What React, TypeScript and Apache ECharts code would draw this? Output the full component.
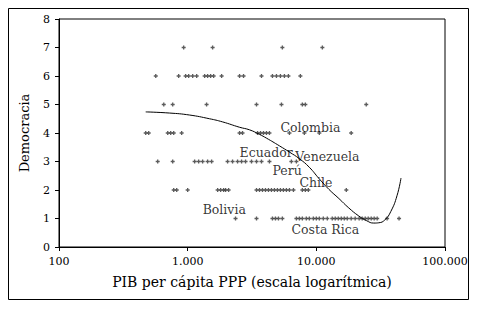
import React, { useEffect, useRef } from "react";
import * as echarts from "echarts";

// PIB per cápita (PPP) of observations, grouped by democracy score
const gdpScore7 = [931, 1563, 5445, 11140];
const gdpScore6 = [565, 851, 964, 1018, 1094, 1175, 1355, 1429, 1508, 1592, 1836, 2531, 2718, 3748, 4560, 4898, 5259, 5649, 6067, 7516];
const gdpScore5 = [652, 765, 1403, 3428, 5358, 7786, 8216, 24430];
const gdpScore4 = [472, 498, 700, 738, 779, 898, 2531, 2669, 3492, 3683, 3884, 4096, 4321, 6180, 8070, 10550, 18660];
const gdpScore3 = [585, 765, 1133, 1217, 1307, 1429, 1535, 2043, 2233, 2443, 2624, 2818, 3135, 3428, 3748, 4321, 6400, 7000];
const gdpScore2 = [779, 822, 1000, 1710, 1804, 1903, 1972, 2081, 3428, 3617, 3815, 4025, 4246, 4479, 4725, 4985, 5259, 5548, 5853, 6180, 6640, 7786, 8216, 8670, 17100];
const gdpScore1 = [2355, 3428, 4560, 4812, 5076, 5445, 6998, 7384, 7786, 8356, 8825, 9480, 10000, 10550, 11330, 12170, 13300, 14030, 14810, 15630, 16490, 17390, 18660, 20040, 21520, 22730, 23990, 25310, 26700, 28160, 29710, 35480, 43950];
const scores = [7, 6, 5, 4, 3, 2, 1];
const groups = [gdpScore7, gdpScore6, gdpScore5, gdpScore4, gdpScore3, gdpScore2, gdpScore1];

// Trend curve
const trendX = [472, 725, 1036, 1478, 1866, 2538, 3030, 3620, 4096, 5164, 6180, 7376, 8810, 10500, 12540, 14980, 17880, 21350, 24660, 27940, 30570, 34060, 37960, 42370, 45500];
const trendY = [4.74, 4.7, 4.63, 4.5, 4.39, 4.2, 4.11, 3.95, 3.82, 3.55, 3.33, 3.1, 2.8, 2.4, 2.02, 1.7, 1.37, 1.09, 0.92, 0.84, 0.85, 0.95, 1.25, 1.8, 2.42];

// Country labels (anchor at left edge of text)
const countryNames = ["Colombia", "Ecuador", "Venezuela", "Perú", "Chile", "Bolivia", "Costa Rica"];
const countryX = [5260, 2531, 6870, 4560, 7384, 1307, 6400];
const countryY = [4.18, 3.3, 3.16, 2.7, 2.25, 1.3, 0.6];

const xTicks = [100, 1000, 10000, 100000];
const yTicks = [0, 1, 2, 3, 4, 5, 6, 7, 8];

const FONT = "DejaVu Serif";

const fmt = (v: number) => String(Math.round(v)).replace(/\B(?=(\d{3})+(?!\d))/g, ".");

export default function App() {
  const ref = useRef<HTMLDivElement>(null);
  useEffect(() => {
    if (!ref.current) return;
    const chart = echarts.init(ref.current, undefined, { renderer: "svg" });
    const points: number[][] = [];
    groups.forEach((g, i) => g.forEach((x) => points.push([x, scores[i]])));
    chart.setOption({
      animation: false,
      backgroundColor: "#fff",
      textStyle: { fontFamily: FONT, color: "#000" },
      graphic: [
        {
          type: "rect",
          shape: { x: 8.5, y: 8.5, width: 460, height: 291 },
          style: { fill: "none", stroke: "#000", lineWidth: 1 },
          silent: true,
        },
      ],
      grid: {
        left: 59,
        top: 19,
        right: 33,
        bottom: 63,
        show: true,
        borderColor: "#000",
        borderWidth: 1,
        backgroundColor: "transparent",
      },
      xAxis: {
        type: "log",
        logBase: 10,
        min: xTicks[0],
        max: xTicks[xTicks.length - 1],
        name: "PIB per cápita PPP (escala logarítmica)",
        nameLocation: "middle",
        nameGap: 28,
        nameTextStyle: { fontFamily: FONT, fontSize: 14, color: "#000" },
        axisLine: { lineStyle: { color: "#000", width: 1 } },
        axisTick: { show: true, length: 4, lineStyle: { color: "#000" } },
        minorTick: { show: false },
        splitLine: { show: false },
        axisLabel: {
          fontFamily: FONT,
          fontSize: 11,
          color: "#000",
          margin: 9,
          formatter: (v: number) => fmt(v),
        },
      },
      yAxis: {
        type: "value",
        min: 0,
        max: 8,
        interval: 1,
        name: "Democracia",
        nameLocation: "middle",
        nameGap: 28,
        nameTextStyle: { fontFamily: FONT, fontSize: 13, color: "#000" },
        axisLine: { show: true, lineStyle: { color: "#000", width: 1 } },
        axisTick: { show: true, length: 4, lineStyle: { color: "#000" } },
        splitLine: { show: false },
        axisLabel: {
          fontFamily: FONT,
          fontSize: 11,
          color: "#000",
          margin: 9,
          formatter: (v: number) => (yTicks.includes(v) ? String(v) : ""),
        },
      },
      series: [
        {
          type: "scatter",
          data: points,
          symbol: "path://M1,0H2V1H3V2H2V3H1V2H0V1H1Z",
          symbolSize: 4,
          itemStyle: { color: "#333" },
          silent: true,
          z: 2,
        },
        {
          type: "line",
          data: trendX.map((x, i) => [x, trendY[i]]),
          smooth: true,
          showSymbol: false,
          lineStyle: { color: "#000", width: 1 },
          silent: true,
          z: 3,
        },
        {
          type: "scatter",
          data: countryNames.map((n, i) => ({ name: n, value: [countryX[i], countryY[i]] })),
          symbolSize: 0,
          silent: true,
          z: 4,
          label: {
            show: true,
            position: "right",
            distance: 0,
            formatter: (p: any) => p.name,
            fontFamily: FONT,
            fontSize: 12.5,
            color: "#000",
          },
        },
      ],
    });
    return () => chart.dispose();
  }, []);
  return (
    <div
      ref={ref}
      style={{ position: "absolute", left: 0, top: 0, width: 478, height: 310 }}
    />
  );
}
